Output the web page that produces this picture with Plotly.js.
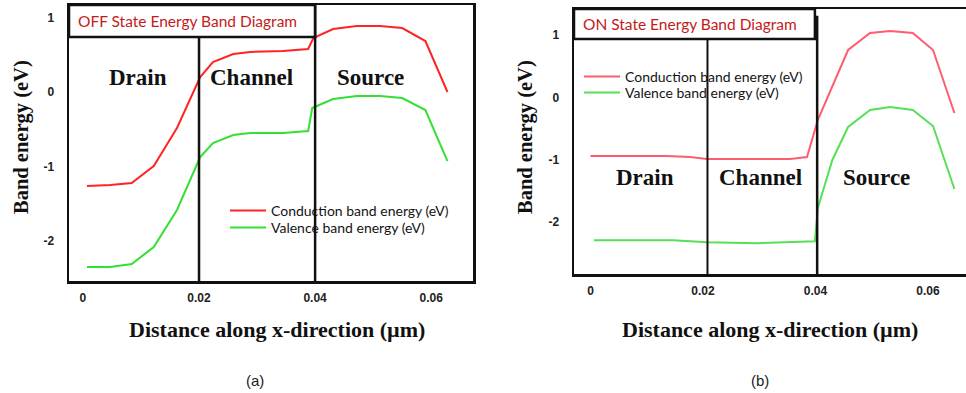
<!DOCTYPE html>
<html>
<head>
<meta charset="utf-8">
<script src="https://cdn.plot.ly/plotly-3.0.1.min.js"></script>
<style>html,body{margin:0;padding:0;background:#fff;}#chart{width:966px;height:393px;}</style>
</head>
<body>
<div id="chart"></div>
<script>
// ---- Data: panel (a) OFF state ----
const offX_cb = [0.0007, 0.0047, 0.0084, 0.0122, 0.0162, 0.0202, 0.0224, 0.0259, 0.0288, 0.0345, 0.0388, 0.0397, 0.0431, 0.0472, 0.0512, 0.0550, 0.0590, 0.0628];
const offCB   = [-1.266, -1.252, -1.225, -0.996, -0.483, 0.205, 0.408, 0.516, 0.543, 0.556, 0.583, 0.731, 0.853, 0.893, 0.893, 0.866, 0.691, 0.003];
const offX_vb = [0.0007, 0.0047, 0.0084, 0.0122, 0.0162, 0.0202, 0.0224, 0.0259, 0.0288, 0.0345, 0.0388, 0.0395, 0.0431, 0.0472, 0.0512, 0.0550, 0.0590, 0.0628];
const offVB   = [-2.359, -2.359, -2.318, -2.089, -1.590, -0.875, -0.686, -0.578, -0.551, -0.551, -0.524, -0.213, -0.092, -0.051, -0.051, -0.078, -0.240, -0.929];

// ---- Data: panel (b) ON state ----
const onX_cb = [0.0000, 0.0058, 0.0136, 0.0177, 0.0207, 0.0266, 0.0355, 0.0385, 0.0394, 0.0404, 0.0458, 0.0497, 0.0533, 0.0573, 0.0609, 0.0647];
const onCB   = [-0.942, -0.942, -0.942, -0.958, -0.990, -0.990, -0.990, -0.958, -0.685, -0.363, 0.762, 1.035, 1.068, 1.035, 0.762, -0.251];
const onX_vb = [0.0006, 0.0147, 0.0177, 0.0207, 0.0296, 0.0355, 0.0399, 0.0404, 0.0430, 0.0458, 0.0497, 0.0533, 0.0573, 0.0609, 0.0647];
const onVB   = [-2.296, -2.296, -2.312, -2.328, -2.344, -2.328, -2.312, -1.781, -1.006, -0.476, -0.203, -0.154, -0.203, -0.460, -1.473];

const xTickVals = [0, 0.02, 0.04, 0.06];
const xTickText = ['0', '0.02', '0.04', '0.06'];
const yTickVals = [1, 0, -1, -2];
const yTickText = ['1', '0', '-1', '-2'];
const regionNames = ['Drain', 'Channel', 'Source'];
const seriesNames = ['Conduction band energy (eV)', 'Valence band energy (eV)'];
const panelTitles = ['OFF State Energy Band Diagram', 'ON State Energy Band Diagram'];
const xTitle = 'Distance along x-direction (\u00b5m)';
const yTitle = 'Band energy (eV)';

const W = 966, H = 393;
const serif = 'Liberation Serif, Times New Roman, serif';
const sans = 'Lato, Open Sans, sans-serif';

const traces = [
  {x: offX_cb, y: offCB, name: seriesNames[0], mode: 'lines', line: {color: '#ff2424', width: 2}, xaxis: 'x', yaxis: 'y', legend: 'legend'},
  {x: offX_vb, y: offVB, name: seriesNames[1], mode: 'lines', line: {color: '#33e033', width: 2}, xaxis: 'x', yaxis: 'y', legend: 'legend2'},
  {x: onX_cb, y: onCB, name: seriesNames[0], mode: 'lines', line: {color: '#ff5c70', width: 2}, xaxis: 'x2', yaxis: 'y2', legend: 'legend3'},
  {x: onX_vb, y: onVB, name: seriesNames[1], mode: 'lines', line: {color: '#55e055', width: 2}, xaxis: 'x2', yaxis: 'y2', legend: 'legend4'}
];

const tickFont = {family: 'Liberation Sans, Arial, sans-serif', size: 12, color: '#222', weight: 'bold'};
const axA = {x: [69, 473], y: [5, 281]};
const axB = {x: [574, 966], y: [9, 274]};
const xRangeA = [-0.0024, 0.0672];
const yRangeA = [-2.548, 1.177];
const xRangeB = [-0.00293, 0.06676];
const yRangeB = [-2.839, 1.421];

function xax(px, range, mirror) {
  return {domain: [px[0]/W, px[1]/W], range: range, showgrid: false, zeroline: false,
    showline: true, linecolor: '#111', linewidth: 2.5, mirror: mirror,
    tickvals: xTickVals, ticktext: xTickText, ticks: '', tickfont: tickFont, ticklabelstandoff: 4};
}
function yax(py, range, mirror) {
  return {domain: [1 - py[1]/H, 1 - py[0]/H], range: range, showgrid: false, zeroline: false,
    showline: true, linecolor: '#111', linewidth: 2.5, mirror: mirror,
    tickvals: yTickVals, ticktext: yTickText, ticks: '', tickfont: tickFont, ticklabelstandoff: 10};
}
function leg(xpx, ypx) {
  return {x: xpx/W, y: 1 - ypx/H, xanchor: 'left', yanchor: 'middle', bgcolor: 'rgba(0,0,0,0)',
    font: {family: sans, size: 14, color: '#141414'}, itemwidth: 36};
}

const layout = {
  width: W, height: H, margin: {l: 0, r: 0, t: 0, b: 0},
  paper_bgcolor: '#fff', plot_bgcolor: '#fff', showlegend: true,
  xaxis: Object.assign(xax(axA.x, xRangeA, true), {anchor: 'y'}),
  yaxis: Object.assign(yax(axA.y, yRangeA, true), {anchor: 'x'}),
  xaxis2: Object.assign(xax(axB.x, xRangeB, true), {anchor: 'y2'}),
  yaxis2: Object.assign(yax(axB.y, yRangeB, false), {anchor: 'x2'}),
  legend: leg(225, 211),
  legend2: leg(225, 228),
  legend3: leg(579, 77),
  legend4: leg(579, 93),
  shapes: [
    // panel a title box and region dividers
    {type: 'rect', xref: 'x', yref: 'y domain', x0: xRangeA[0], x1: 0.04, y0: 0.884, y1: 1, line: {color: '#111', width: 2.5}},
    {type: 'line', xref: 'x', yref: 'y domain', x0: 0.02, x1: 0.02, y0: 0, y1: 0.884, line: {color: '#111', width: 2.5}},
    {type: 'line', xref: 'x', yref: 'y domain', x0: 0.04, x1: 0.04, y0: 0, y1: 1, line: {color: '#111', width: 2.5}},
    // panel b
    {type: 'rect', xref: 'x2', yref: 'y2 domain', x0: xRangeB[0], x1: 0.0399, y0: 0.887, y1: 1, line: {color: '#111', width: 2.5}},
    {type: 'line', xref: 'x2', yref: 'y2 domain', x0: 0.0208, x1: 0.0208, y0: 0, y1: 0.887, line: {color: '#111', width: 2}},
    {type: 'line', xref: 'x2', yref: 'y2 domain', x0: 0.0403, x1: 0.0403, y0: 0, y1: 0.975, line: {color: '#111', width: 2.5}}
  ],
  annotations: []
};

function ann(text, x, y, xref, yref, font, extra) {
  return Object.assign({text: text, x: x, y: y, xref: xref, yref: yref, showarrow: false, font: font,
    xanchor: 'center', yanchor: 'middle'}, extra || {});
}
const regionFont = {family: serif, size: 23, color: '#111'};
const regionA = [0.0095, 0.0291, 0.0495];
const regionB = [0.0097, 0.0303, 0.0508];
regionNames.forEach((n, i) => {
  layout.annotations.push(ann('<b>' + n + '</b>', regionA[i], 0.205, 'x', 'y', regionFont));
  layout.annotations.push(ann('<b>' + n + '</b>', regionB[i], -1.28, 'x2', 'y2', regionFont));
});
const titleFont = {family: sans, size: 15.5, color: '#c41a1a'};
layout.annotations.push(ann(panelTitles[0], 76/W, 1 - 21/H, 'paper', 'paper', titleFont, {xanchor: 'left'}));
layout.annotations.push(ann(panelTitles[1], 581/W, 1 - 24/H, 'paper', 'paper', titleFont, {xanchor: 'left'}));
const axTitleFont = {family: serif, size: 22, color: '#111'};
const yTitleFont = {family: serif, size: 20.5, color: '#111'};
layout.annotations.push(ann('<b>' + xTitle + '</b>', 277/W, 1 - 329/H, 'paper', 'paper', axTitleFont));
layout.annotations.push(ann('<b>' + xTitle + '</b>', 770/W, 1 - 329/H, 'paper', 'paper', axTitleFont));
layout.annotations.push(ann('<b>' + yTitle + '</b>', 22/W, 1 - 137/H, 'paper', 'paper', yTitleFont, {textangle: -90}));
layout.annotations.push(ann('<b>' + yTitle + '</b>', 526/W, 1 - 137/H, 'paper', 'paper', yTitleFont, {textangle: -90}));
const capFont = {family: 'Liberation Sans, Arial, sans-serif', size: 15, color: '#222'};
layout.annotations.push(ann('(a)', 255/W, 1 - 380/H, 'paper', 'paper', capFont));
layout.annotations.push(ann('(b)', 760/W, 1 - 380/H, 'paper', 'paper', capFont));

Plotly.newPlot('chart', traces, layout, {displayModeBar: false, staticPlot: true});
</script>
</body>
</html>
